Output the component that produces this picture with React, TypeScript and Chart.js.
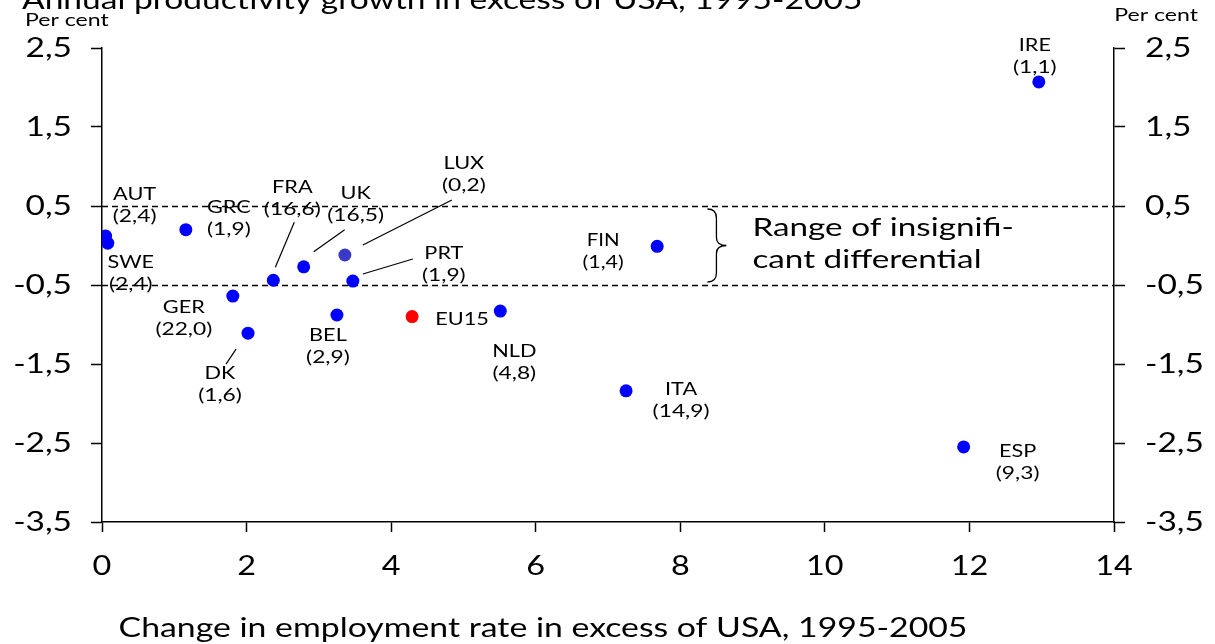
import { useEffect, useRef } from "react";
import { Chart, registerables } from "chart.js";

Chart.register(...registerables);

// ---- data ----
const countries = ["AUT", "SWE", "GRC", "FRA", "UK", "LUX", "PRT", "GER", "DK", "BEL", "EU15", "NLD", "FIN", "ITA", "ESP", "IRE"];
const employmentChange = [0.05, 0.08, 1.16, 2.37, 2.79, 3.36, 3.47, 1.81, 2.02, 3.25, 4.29, 5.51, 7.68, 7.25, 11.92, 12.96];
const productivityGrowth = [0.12, 0.03, 0.2, -0.44, -0.27, -0.12, -0.45, -0.64, -1.11, -0.88, -0.9, -0.83, -0.01, -1.84, -2.55, 2.07];
const weights = ["(2,4)", "(2,4)", "(1,9)", "(16,6)", "(16,5)", "(0,2)", "(1,9)", "(22,0)", "(1,6)", "(2,9)", "", "(4,8)", "(1,4)", "(14,9)", "(9,3)", "(1,1)"];
const xTicks = [0, 2, 4, 6, 8, 10, 12, 14];
const yTicks = [-3.5, -2.5, -1.5, -0.5, 0.5, 1.5, 2.5];
const bandLimits = [-0.5, 0.5];

const chartTitle = "Annual productivity growth in excess of USA, 1995-2005";
const xAxisTitle = "Change in employment rate in excess of USA, 1995-2005";
const yUnit = "Per cent";
const bandText = ["Range of insignifi-", "cant differential"];

// ---- styles / label placement (pixels) ----
const FONT = "Lato, 'DejaVu Sans', sans-serif";
const pointColors: Record<string, string> = { LUX: "#3a3ac6", EU15: "#ff0000" };
const labelOffsets: Record<string, [number, number]> = {
  AUT: [29, -42], SWE: [23, 19], GRC: [43, -22], FRA: [19, -93], UK: [52, -73], LUX: [119, -92],
  PRT: [91, -28], GER: [-49, 11], DK: [-28, 40], BEL: [-9, 20], EU15: [50, 3], NLD: [14, 40],
  FIN: [-54, -6], ITA: [55, -2], ESP: [54, 4], IRE: [-4, -37],
};
const leaders: Record<string, [number, number, number, number]> = {
  FRA: [21, -58, 2, -13], UK: [41, -37, 10, -15], LUX: [107, -55, 18, -10], PRT: [60, -22, 10, -7], DK: [-12, 16, -22, 31],
};

const fmt = (v: number) => v.toFixed(1).replace(".", ",");

function txt(ctx: CanvasRenderingContext2D, s: string, x: number, y: number, size: number,
  align: CanvasTextAlign = "center", baseline: CanvasTextBaseline = "middle", sx = 1.2) {
  ctx.save();
  ctx.translate(x, y);
  ctx.scale(sx, 1);
  ctx.font = `${size}px ${FONT}`;
  ctx.textAlign = align;
  ctx.textBaseline = baseline;
  ctx.fillStyle = "#000";
  ctx.fillText(s, 0, 0);
  ctx.restore();
}

const overlay = {
  id: "overlay",
  beforeDatasetsDraw(chart: any) {
    const { ctx, chartArea, scales } = chart;
    ctx.save();
    ctx.strokeStyle = "#000";
    ctx.lineWidth = 1.4;
    ctx.setLineDash([6, 4]);
    for (const v of bandLimits) {
      const y = Math.round(scales.y.getPixelForValue(v)) + 0.5;
      ctx.beginPath();
      ctx.moveTo(chartArea.left, y);
      ctx.lineTo(chartArea.right, y);
      ctx.stroke();
    }
    ctx.setLineDash([]);
    // brace
    const bx = scales.x.getPixelForValue(8.5);
    const yT = scales.y.getPixelForValue(bandLimits[1]) + 3;
    const yB = scales.y.getPixelForValue(bandLimits[0]) - 3;
    const mid = (yT + yB) / 2;
    ctx.lineWidth = 1.3;
    ctx.beginPath();
    ctx.moveTo(bx - 9, yT);
    ctx.quadraticCurveTo(bx, yT, bx, yT + 9);
    ctx.lineTo(bx, mid - 8);
    ctx.quadraticCurveTo(bx, mid, bx + 10, mid);
    ctx.quadraticCurveTo(bx, mid, bx, mid + 8);
    ctx.lineTo(bx, yB - 9);
    ctx.quadraticCurveTo(bx, yB, bx - 9, yB);
    ctx.stroke();
    txt(ctx, bandText[0], bx + 36, mid - 10, 25, "left", "alphabetic", 1.33);
    txt(ctx, bandText[1], bx + 36, mid + 22, 25, "left", "alphabetic", 1.33);
    ctx.restore();
  },
  afterDraw(chart: any) {
    const { ctx, chartArea, scales } = chart;
    const xs = scales.x, ys = scales.y;
    // point labels
    ctx.save();
    ctx.strokeStyle = "#000";
    ctx.lineWidth = 1.2;
    countries.forEach((c, i) => {
      const px = xs.getPixelForValue(employmentChange[i]);
      const py = ys.getPixelForValue(productivityGrowth[i]);
      const [dx, dy] = labelOffsets[c];
      const size = c === "FIN" ? 16.5 : 17.5;
      txt(ctx, c, px + dx, py + dy, size, "center", "middle", 1.24);
      if (weights[i]) txt(ctx, weights[i], px + dx, py + dy + 22, size, "center", "middle", 1.3);
      const l = leaders[c];
      if (l) {
        ctx.beginPath();
        ctx.moveTo(px + l[0], py + l[1]);
        ctx.lineTo(px + l[2], py + l[3]);
        ctx.stroke();
      }
    });
    ctx.restore();
    // tick labels
    for (const v of yTicks) {
      const y = ys.getPixelForValue(v);
      txt(ctx, fmt(v), chartArea.left - 30, y, 27, "right", "middle", 1.24);
      txt(ctx, fmt(v), chartArea.right + 31, y, 27, "left", "middle", 1.24);
    }
    for (const v of xTicks) {
      txt(ctx, String(v), xs.getPixelForValue(v), 566, 27, "center", "middle", 1.2);
    }
    // titles
    txt(ctx, chartTitle, 22, 9, 26, "left", "alphabetic", 1.29);
    txt(ctx, yUnit, 25, 26, 16.5, "left", "alphabetic", 1.4);
    txt(ctx, yUnit, 1198, 21, 16.5, "right", "alphabetic", 1.4);
    txt(ctx, xAxisTitle, 543, 637, 26, "center", "alphabetic", 1.3);
  },
};

export default function App() {
  const ref = useRef<HTMLCanvasElement>(null);
  useEffect(() => {
    if (!ref.current) return;
    const axisCommon = {
      type: "linear" as const,
      ticks: { display: false },
      border: { display: true, color: "#000", width: 1.5 },
    };
    const chart = new Chart(ref.current, {
      type: "scatter",
      data: {
        datasets: [
          {
            data: countries.map((_, i) => ({ x: employmentChange[i], y: productivityGrowth[i] })),
            pointBackgroundColor: countries.map((c) => pointColors[c] || "#0000ff"),
            pointBorderWidth: 0,
            pointRadius: 6.5,
            pointHoverRadius: 6.5,
          },
        ],
      },
      options: {
        responsive: false,
        animation: false,
        devicePixelRatio: 1,
        layout: { padding: { top: 48 } },
        plugins: { legend: { display: false }, tooltip: { enabled: false } },
        scales: {
          x: {
            ...axisCommon,
            min: 0,
            max: 14,
            afterBuildTicks: (s: any) => { s.ticks = xTicks.map((v) => ({ value: v })); },
            afterFit: (s: any) => { s.height = 122; },
            grid: { drawOnChartArea: false, drawTicks: true, tickLength: 10, tickColor: "#000", tickWidth: 1.5 },
          },
          y: {
            ...axisCommon,
            position: "left",
            min: -3.5,
            max: 2.5,
            afterBuildTicks: (s: any) => { s.ticks = yTicks.map((v) => ({ value: v })); },
            afterFit: (s: any) => { s.width = 102; },
            grid: { drawOnChartArea: false, drawTicks: true, tickLength: 11, tickColor: "#000", tickWidth: 1.5 },
          },
          y2: {
            ...axisCommon,
            position: "right",
            min: -3.5,
            max: 2.5,
            afterBuildTicks: (s: any) => { s.ticks = yTicks.map((v) => ({ value: v })); },
            afterFit: (s: any) => { s.width = 101; },
            grid: { drawOnChartArea: false, drawTicks: true, tickLength: 11, tickColor: "#000", tickWidth: 1.5 },
          },
        },
      } as any,
      plugins: [overlay],
    });
    return () => chart.destroy();
  }, []);
  return (
    <canvas
      ref={ref}
      width={1215}
      height={644}
      style={{ position: "absolute", left: 0, top: 0, background: "#fff" }}
    />
  );
}
